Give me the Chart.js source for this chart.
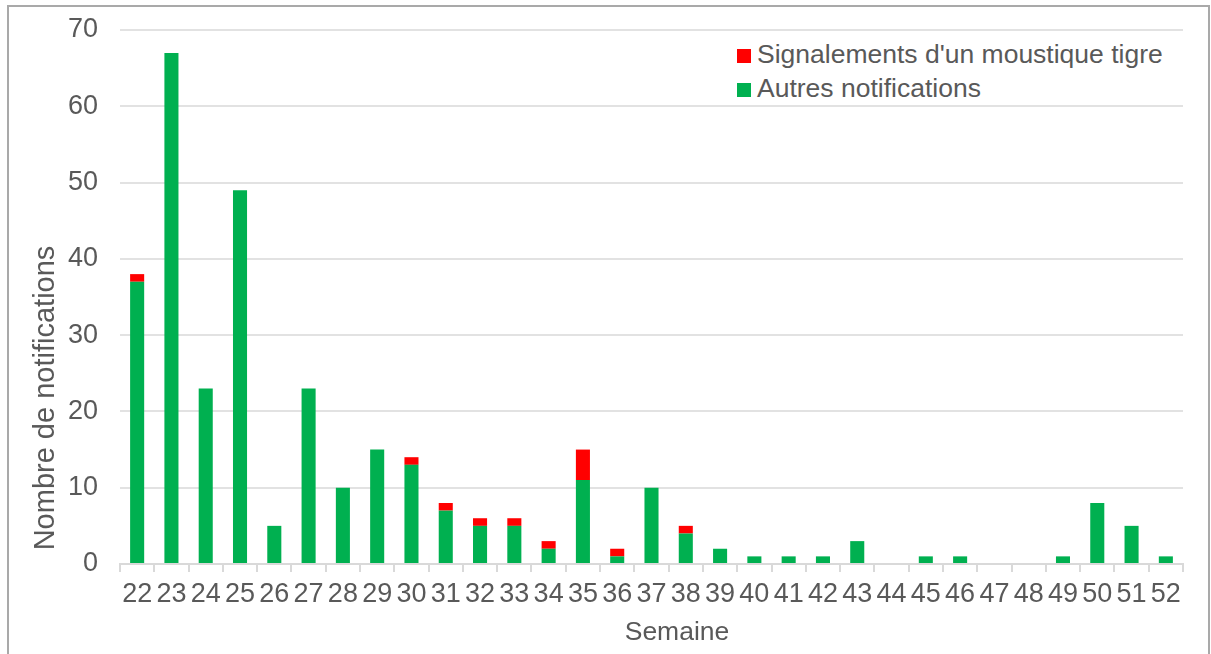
<!DOCTYPE html>
<html lang="fr">
<head>
<meta charset="utf-8">
<script src="https://cdn.jsdelivr.net/npm/chart.js@4/dist/chart.umd.min.js"></script>
<style>
  body { margin: 0; background: #fff; font-family: "Liberation Sans", Arial, sans-serif; }
  #cadre { position: relative; width: 1211px; height: 654px; overflow: hidden; }
  #bord { position: absolute; left: 7px; top: 5px; width: 1199px; height: 700px; border: 2px solid #a9a9a9; }
  canvas { position: absolute; left: 0; top: 0; }
  #legende { position: absolute; left: 727px; top: 36px; width: 448px; height: 68px; background: #fff; }
  .ligne { position: absolute; left: 10px; height: 30px; line-height: 30px; font-size: 26.5px; color: #595959; white-space: nowrap; }
  .ligne span { position: absolute; left: 0; top: 10px; width: 14px; height: 14px; }
  .ligne b { font-weight: normal; position: absolute; left: 20px; top: 0; }
  #titreX { position: absolute; left: 577px; top: 616px; width: 200px; text-align: center; font-size: 26.5px; line-height: 30px; color: #595959; }
  #titreY { position: absolute; left: -156px; top: 381px; width: 400px; height: 34px; line-height: 34px; text-align: center; font-size: 29px; color: #595959; transform: rotate(-90deg); white-space: nowrap; }
</style>
</head>
<body>
<div id="cadre">
  <div id="bord"></div>
  <canvas id="graphique" width="1211" height="654"></canvas>
  <div id="legende">
    <div class="ligne" style="top:3px"><span style="background:#ff0000"></span><b>Signalements d'un moustique tigre</b></div>
    <div class="ligne" style="top:37px"><span style="background:#00b050"></span><b>Autres notifications</b></div>
  </div>
  <div id="titreX">Semaine</div>
  <div id="titreY">Nombre de notifications</div>
</div>
<script>
//Données
const semaines = ['22','23','24','25','26','27','28','29','30','31','32','33','34','35','36','37','38','39','40','41','42','43','44','45','46','47','48','49','50','51','52'];
const autresNotifications = [37, 67, 23, 49, 5, 23, 10, 15, 13, 7, 5, 5, 2, 11, 1, 10, 4, 2, 1, 1, 1, 3, 0, 1, 1, 0, 0, 1, 8, 5, 1];
const signalementsTigre = [1, 0, 0, 0, 0, 0, 0, 0, 1, 1, 1, 1, 1, 4, 1, 0, 1, 0, 0, 0, 0, 0, 0, 0, 0, 0, 0, 0, 0, 0, 0];
const graduationsY = [0, 10, 20, 30, 40, 50, 60, 70];

const police = "'Liberation Sans', Arial, sans-serif";
const gris = '#595959';
const ctx = document.getElementById('graphique').getContext('2d');

new Chart(ctx, {
    type: 'bar',
    data: {
        labels: semaines,
        datasets: [
            {
                label: 'Autres notifications',
                data: autresNotifications,
                backgroundColor: '#00b050',
                barPercentage: 0.41,
                categoryPercentage: 1
            },
            {
                label: "Signalements d'un moustique tigre",
                data: signalementsTigre,
                backgroundColor: '#ff0000',
                barPercentage: 0.41,
                categoryPercentage: 1
            }
        ]
    },
    options: {
        responsive: false,
        animation: false,
        devicePixelRatio: 1,
        layout: { padding: { left: 0, top: 30, right: 28, bottom: 0 } },
        plugins: {
            legend: { display: false },
            tooltip: { enabled: false }
        },
        scales: {
            x: {
                stacked: true,
                offset: true,
                grid: { drawOnChartArea: false, drawTicks: true, tickLength: 8, color: '#d9d9d9', lineWidth: 2 },
                border: { color: '#d9d9d9', width: 2 },
                ticks: { font: { family: police, size: 27 }, color: gris, padding: 6, maxRotation: 0, autoSkip: false },
                afterFit: s => { s.height = 90; }
            },
            y: {
                stacked: true,
                min: graduationsY[0],
                max: graduationsY[graduationsY.length - 1],
                afterBuildTicks: s => { s.ticks = graduationsY.map(v => ({ value: v })); },
                grid: { color: '#e2e2e2', lineWidth: 2, drawTicks: false },
                border: { display: false },
                ticks: { font: { family: police, size: 27 }, color: gris, padding: 22 },
                //titre de l'axe placé en HTML (#titreY)
                afterFit: s => {
                    s.width = 120;
                    s.paddingTop = 0;
                    s.paddingBottom = 0;
                }
            }
        }
    }
});
</script>
</body>
</html>
